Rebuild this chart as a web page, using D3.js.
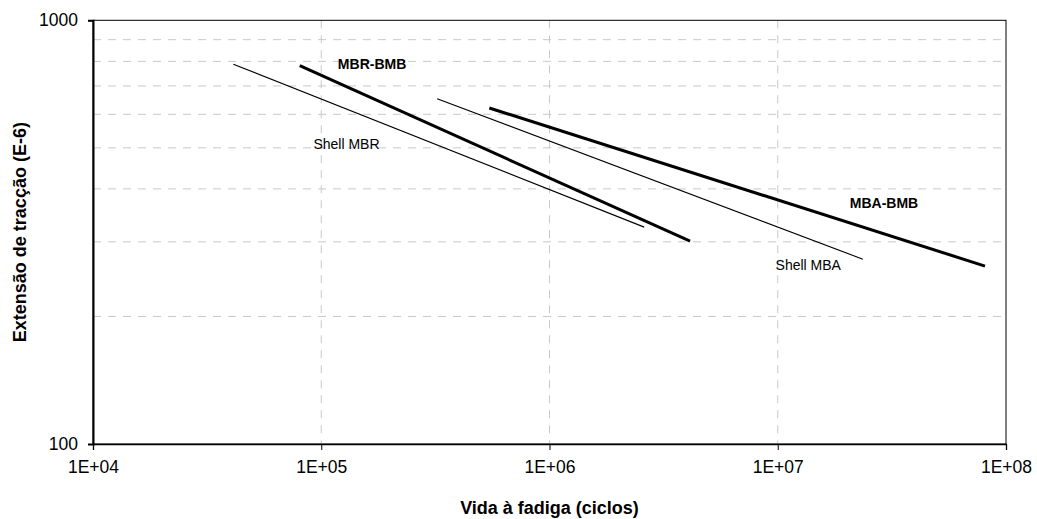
<!DOCTYPE html>
<html>
<head>
<meta charset="utf-8">
<script src="https://cdn.jsdelivr.net/npm/d3@7"></script>
<style>
    body { margin: 0; background: #fff; }
    svg { display: block; font-family: Arial, "Liberation Sans", sans-serif; }
    .grid line { stroke: #c8c8c8; stroke-width: 1; stroke-dasharray: 8,7; }
</style>
</head>
<body>
<div id="chart"></div>
<script>
// Data
const seriesNames = ["Shell MBR", "MBR-BMB", "Shell MBA", "MBA-BMB"];
const seriesCycles = [
    [41200, 2.60e6],
    [80500, 4.13e6],
    [322000, 2.36e7],
    [545000, 8.09e7]
];
const seriesStrain = [
    [788, 325],
    [782, 301],
    [653, 273],
    [621, 263]
];
const seriesBold = [false, true, false, true];
const labelCycles = [129000, 167000, 1.36e7, 2.92e7];
const labelStrain = [511, 788, 264, 371];

const xTicks = [1e4, 1e5, 1e6, 1e7, 1e8];
const xTickLabels = ["1E+04", "1E+05", "1E+06", "1E+07", "1E+08"];
const yTicks = [100, 1000];
const yGrid = [200, 300, 400, 500, 600, 700, 800, 900];

const xTitle = "Vida à fadiga (ciclos)";
const yTitle = "Extensão de tracção (E-6)";

// Layout
const width = 1037;
const height = 519;
const plot = { left: 93, top: 20.3, right: 1006, bottom: 444 };

const svg = d3.select("#chart")
    .append("svg")
    .attr("width", width)
    .attr("height", height);

const x = d3.scaleLog().domain([1e4, 1e8]).range([plot.left, plot.right]);
const y = d3.scaleLog().domain([100, 1000]).range([plot.bottom, plot.top]);

// Gridlines
const grid = svg.append("g").attr("class", "grid");
grid.selectAll(".hgrid")
    .data(yGrid)
    .join("line")
    .attr("x1", plot.left).attr("x2", plot.right)
    .attr("y1", d => y(d)).attr("y2", d => y(d));
grid.selectAll(".vgrid")
    .data(xTicks.slice(1, -1))
    .join("line")
    .attr("x1", d => x(d)).attr("x2", d => x(d))
    .attr("y1", plot.top).attr("y2", plot.bottom);

// Frame
svg.append("rect")
    .attr("x", plot.left).attr("y", plot.top)
    .attr("width", plot.right - plot.left)
    .attr("height", plot.bottom - plot.top)
    .attr("fill", "none")
    .attr("stroke", "#000")
    .attr("stroke-width", 1);

// Axes
const xAxis = d3.axisBottom(x)
    .tickValues(xTicks)
    .tickFormat((d, i) => xTickLabels[i])
    .tickSizeOuter(0)
    .tickSize(6)
    .tickPadding(11);
svg.append("g")
    .attr("transform", `translate(0,${plot.bottom})`)
    .call(xAxis)
    .call(g => g.select(".domain").attr("stroke-width", 1.3))
    .call(g => g.selectAll("text").attr("font-size", 17.5).attr("fill", "#000").attr("font-family", null));

const yAxis = d3.axisLeft(y)
    .tickValues(yTicks)
    .tickFormat(d3.format("d"))
    .tickSizeOuter(0)
    .tickSize(5)
    .tickPadding(10);
svg.append("g")
    .attr("transform", `translate(${plot.left},0)`)
    .call(yAxis)
    .call(g => g.select(".domain").attr("stroke-width", 2))
    .call(g => g.selectAll("text").attr("font-size", 17.5).attr("fill", "#000").attr("font-family", null));

// Series lines
const line = d3.line()
    .x(d => x(d[0]))
    .y(d => y(d[1]));

svg.append("g")
    .selectAll("path")
    .data(seriesNames.map((name, i) => seriesCycles[i].map((c, j) => [c, seriesStrain[i][j]])))
    .join("path")
    .attr("d", line)
    .attr("fill", "none")
    .attr("stroke", "#000")
    .attr("stroke-width", (d, i) => seriesBold[i] ? 3 : 1.1);

// Series labels
svg.append("g")
    .selectAll("text")
    .data(seriesNames)
    .join("text")
    .attr("x", (d, i) => x(labelCycles[i]))
    .attr("y", (d, i) => y(labelStrain[i]))
    .attr("dy", "0.35em")
    .attr("text-anchor", "middle")
    .attr("font-size", 14)
    .attr("font-weight", (d, i) => seriesBold[i] ? "bold" : "normal")
    .text(d => d);

// Axis titles
svg.append("text")
    .attr("x", (plot.left + plot.right) / 2)
    .attr("y", 508)
    .attr("dy", "0.35em")
    .attr("text-anchor", "middle")
    .attr("font-size", 18)
    .attr("font-weight", "bold")
    .text(xTitle);

svg.append("text")
    .attr("transform", `translate(20,${(plot.top + plot.bottom) / 2}) rotate(-90)`)
    .attr("dy", "0.35em")
    .attr("text-anchor", "middle")
    .attr("font-size", 18)
    .attr("font-weight", "bold")
    .text(yTitle);
</script>
</body>
</html>
